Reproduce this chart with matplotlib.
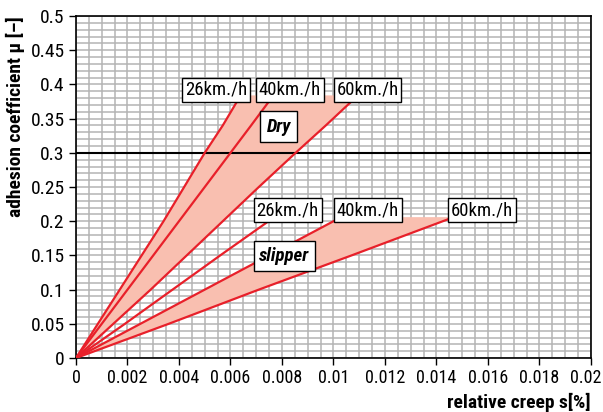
import matplotlib.pyplot as plt
from matplotlib import font_manager
from matplotlib.transforms import ScaledTranslation
from matplotlib.ticker import MultipleLocator, FormatStrFormatter

# pick a narrow sans if one is around
names = {f.name for f in font_manager.fontManager.ttflist}
condensed_dejavu = any(f.name == 'DejaVu Sans' and f.stretch == 'condensed'
                       for f in font_manager.fontManager.ttflist)
family = None
for cand in ['Liberation Sans Narrow', 'Roboto Condensed', 'Open Sans Condensed']:
    if cand in names:
        family = cand
        break
if family is None and condensed_dejavu:
    family = 'DejaVu Sans'
    plt.rcParams['font.stretch'] = 'condensed'
if family is None:
    family = 'Roboto'
plt.rcParams['font.family'] = [family, 'DejaVu Sans']

# creep s vs adhesion mu
dry_26_s = [0, 0.00085, 0.0017, 0.00255, 0.0034, 0.0042, 0.0050, 0.0057, 0.0063]
dry_26_mu = [0, 0.05, 0.10, 0.15, 0.20, 0.25, 0.30, 0.34, 0.378]
dry_40_s = [0, 0.0010, 0.0020, 0.0030, 0.0040, 0.0050, 0.0060, 0.0068, 0.00755]
dry_40_mu = [0, 0.05, 0.10, 0.15, 0.20, 0.25, 0.30, 0.34, 0.378]
dry_60_s = [0, 0.00145, 0.0029, 0.0043, 0.0057, 0.0071, 0.00853, 0.0097, 0.01078]
dry_60_mu = [0, 0.05, 0.10, 0.15, 0.20, 0.25, 0.30, 0.34, 0.378]

slip_26_s = [0, 0.0019, 0.00375, 0.0056, 0.00744]
slip_26_mu = [0, 0.05, 0.10, 0.15, 0.199]
slip_40_s = [0, 0.0025, 0.0050, 0.0075, 0.01015]
slip_40_mu = [0, 0.05, 0.10, 0.15, 0.203]
slip_60_s = [0, 0.0036, 0.0071, 0.0107, 0.0146]
slip_60_mu = [0, 0.05, 0.10, 0.15, 0.205]

dry_top = 0.384
slip_top = 0.206
mu_limit = 0.3

x_ticks = [0, 0.002, 0.004, 0.006, 0.008, 0.01, 0.012, 0.014, 0.016, 0.018, 0.02]
x_ticklabels = ['0', '0.002', '0.004', '0.006', '0.008', '0.01', '0.012', '0.014',
                '0.016', '0.018', '0.02']

speed_labels = ['26km./h', '40km./h', '60km./h']
dry_label_x = [0.00543, 0.0083, 0.01132]
dry_label_y = 0.392
slip_label_x = [0.00822, 0.01134, 0.01577]
slip_label_y = 0.216

RED = '#e8202a'
FILL = '#f9bfb0'

fig = plt.figure(figsize=(6.03, 4.12), dpi=100)
ax = fig.add_axes([0.126, 0.131, 0.854, 0.830])

# shaded bands
dry_poly_x = dry_26_s + [dry_26_s[-1], dry_60_s[-1]] + dry_60_s[::-1]
dry_poly_y = dry_26_mu + [dry_top, dry_top] + dry_60_mu[::-1]
ax.fill(dry_poly_x, dry_poly_y, color=FILL, lw=0, zorder=2)
slip_poly_x = slip_40_s + [slip_40_s[-1], slip_60_s[-1]] + slip_60_s[::-1]
slip_poly_y = slip_40_mu + [slip_top, slip_top] + slip_60_mu[::-1]
ax.fill(slip_poly_x, slip_poly_y, color=FILL, lw=0, zorder=2)

ax.axhline(mu_limit, color='black', lw=1.5, zorder=3)

for s, mu in [(dry_26_s, dry_26_mu), (dry_40_s, dry_40_mu), (dry_60_s, dry_60_mu),
              (slip_26_s, slip_26_mu), (slip_40_s, slip_40_mu), (slip_60_s, slip_60_mu)]:
    ax.plot(s, mu, color=RED, lw=1.6, zorder=4, solid_capstyle='round')

box = dict(boxstyle='square,pad=0.15', fc='white', ec='black', lw=1)
for lab, x in zip(speed_labels, dry_label_x):
    ax.text(x, dry_label_y, lab, ha='center', va='center', fontsize=13.5, bbox=box, zorder=5)
for lab, x in zip(speed_labels, slip_label_x):
    ax.text(x, slip_label_y, lab, ha='center', va='center', fontsize=13.5, bbox=box, zorder=5)
ax.text(0.00787, 0.338, 'Dry', ha='center', va='center', fontsize=13.5,
        fontweight='bold', fontstyle='italic',
        bbox=dict(boxstyle='square,pad=0.35', fc='white', ec='black', lw=1), zorder=5)
ax.text(0.0081, 0.149, 'slipper', ha='center', va='center', fontsize=13.5,
        fontweight='bold', fontstyle='italic',
        bbox=dict(boxstyle='square,pad=0.3', fc='white', ec='black', lw=1), zorder=5)

ax.set_xlim(0, 0.02)
ax.set_ylim(0, 0.5)
ax.set_xticks(x_ticks, x_ticklabels)
ax.xaxis.set_minor_locator(MultipleLocator(0.0005))
ax.yaxis.set_major_locator(MultipleLocator(0.05))
ax.yaxis.set_minor_locator(MultipleLocator(0.01))
ax.yaxis.set_major_formatter(FormatStrFormatter('%g'))
ax.grid(which='both', color='#b4b4b4', lw=1.1, zorder=1)
ax.set_axisbelow(True)
ax.tick_params(which='major', length=5, width=1, labelsize=14, direction='out', pad=3)
ax.tick_params(axis='x', labelsize=13)
ax.tick_params(which='minor', length=0)
for sp in ax.spines.values():
    sp.set_linewidth(1.2)

# nudge the last x label so it stays inside the canvas
last = ax.get_xticklabels()[-1]
last.set_transform(last.get_transform() + ScaledTranslation(-4 / 72, 0, fig.dpi_scale_trans))

ax.set_xlabel('relative creep s[%]', fontsize=14, fontweight='bold', loc='right', labelpad=4)
ax.set_ylabel('adhesion coefficient \u03bc [\u2013]', fontsize=14, fontweight='bold', loc='top', labelpad=4)

fig.savefig('out.png', dpi=100)
